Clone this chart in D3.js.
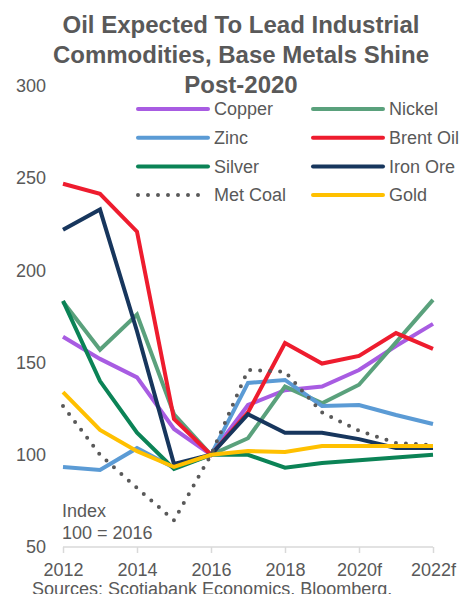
<!DOCTYPE html>
<html>
<head>
<meta charset="utf-8">
<script src="https://cdn.jsdelivr.net/npm/d3@7"></script>
<style>
  html, body { margin: 0; padding: 0; background: #fff; }
  svg { display: block; font-family: "Liberation Sans", Arial, sans-serif; }
</style>
</head>
<body>
<svg id="chart" width="463" height="594"></svg>
<script>
const categories = ["2012","2013","2014","2015","2016","2017","2018","2019","2020f","2021f","2022f"];
const tickLabels = ["2012","2014","2016","2018","2020f","2022f"];
const yTicks = [50,100,150,200,250,300];

const copper  = [164, 152, 142, 114, 100, 127, 135, 137, 146, 159, 171];
const nickel  = [183, 157, 176, 122, 100, 109, 137, 128, 138, 161, 184];
const zinc    = [93.4, 91.8, 103.6, 93, 100, 139, 140.6, 126.5, 127, 121.6, 116.7];
const brent   = [247, 241.5, 221, 119.4, 100, 123, 160.6, 149.5, 153.6, 166, 157.4];
const silver  = [183.5, 140, 112, 92.3, 100, 100, 93, 95.5, 97, 98.6, 100];
const ironOre = [222, 233, 167, 95, 100, 122, 112, 112, 108.5, 103.7, 103.7];
const metCoal = [126.5, 100, 82, 64.5, 100, 146, 145, 123, 113, 106.4, 105.3];
const gold    = [134, 113.5, 102, 93.4, 100, 102, 101.5, 104.8, 104.8, 104.8, 104.8];

const seriesNames  = ["Copper","Nickel","Zinc","Brent Oil","Silver","Iron Ore","Met Coal","Gold"];
const seriesValues = [copper, nickel, zinc, brent, silver, ironOre, metCoal, gold];
const seriesColors = ["#a85ce2","#5aa17c","#5b9bd5","#ee1c2e","#0b8356","#17365d","#595959","#ffc000"];
const seriesDotted = [false,false,false,false,false,false,true,false];

const titleLines = ["Oil Expected To Lead Industrial","Commodities, Base Metals Shine","Post-2020"];
const noteLines = ["Index","100 = 2016"];
const sourceText = "Sources: Scotiabank Economics, Bloomberg.";

const textColor = "#595959";
const svg = d3.select("#chart");

const x = d3.scalePoint().domain(categories).range([63, 433]);
const y = d3.scaleLinear().domain([50, 300]).range([547, 86]);

// Title
svg.append("text")
  .attr("x", 241).attr("text-anchor", "middle")
  .attr("font-size", 24).attr("font-weight", "bold").attr("fill", textColor)
  .selectAll("tspan").data(titleLines).join("tspan")
  .attr("x", 241).attr("y", (d, i) => 33 + i * 30).text(d => d);

// Y axis (labels only)
const yAxis = d3.axisLeft(y).tickValues(yTicks).tickSize(0).tickPadding(0);
const gy = svg.append("g").attr("transform", "translate(46,0)").call(yAxis);
gy.select(".domain").remove();
gy.selectAll("text").attr("font-size", 18).attr("fill", textColor)
  .attr("font-family", "Liberation Sans, Arial, sans-serif");

// X axis
const xAxis = d3.axisBottom(x).tickValues(tickLabels).tickSize(6).tickPadding(10);
const gx = svg.append("g").attr("transform", "translate(0,547)").call(xAxis);
gx.select(".domain").attr("stroke", "#d9d9d9").attr("stroke-width", 1.5)
  .attr("d", "M" + x(categories[0]) + ",0H" + x(categories[categories.length - 1]));
gx.selectAll(".tick line").attr("stroke", "#d9d9d9").attr("stroke-width", 1.5);
gx.selectAll("text").attr("font-size", 18).attr("fill", textColor)
  .attr("font-family", "Liberation Sans, Arial, sans-serif");

// Lines
const line = d3.line().x((d, i) => x(categories[i])).y(d => y(d));
seriesValues.forEach((vals, k) => {
  const p = svg.append("path").datum(vals)
    .attr("d", line)
    .attr("fill", "none")
    .attr("stroke", seriesColors[k])
    .attr("stroke-width", seriesDotted[k] ? 4 : 4)
    .attr("stroke-linejoin", "miter");
  if (seriesDotted[k]) {
    p.attr("stroke-dasharray", "0 10").attr("stroke-linecap", "round");
  }
});

// Legend
const legendCols = [138, 313];
const legendRows = [109, 137.7, 166.4, 195];
seriesNames.forEach((name, k) => {
  const cx = legendCols[k % 2];
  const cy = legendRows[Math.floor(k / 2)];
  const g = svg.append("g");
  const l = g.append("line")
    .attr("x1", cx).attr("x2", cx + (seriesDotted[k] ? 62 : 70))
    .attr("y1", cy).attr("y2", cy)
    .attr("stroke", seriesColors[k]).attr("stroke-width", 4)
    .attr("stroke-linecap", "round");
  if (seriesDotted[k]) l.attr("stroke-dasharray", "0 10");
  g.append("text").attr("x", cx + 76).attr("y", cy).attr("dy", "0.35em")
    .attr("font-size", 18).attr("fill", textColor).text(name);
});

// Index note
svg.append("text").attr("font-size", 18).attr("fill", textColor)
  .selectAll("tspan").data(noteLines).join("tspan")
  .attr("x", 62).attr("y", (d, i) => 517 + i * 22).text(d => d);

// Source
svg.append("text").attr("x", 32).attr("y", 595)
  .attr("font-size", 18).attr("fill", textColor).text(sourceText);
</script>
</body>
</html>
